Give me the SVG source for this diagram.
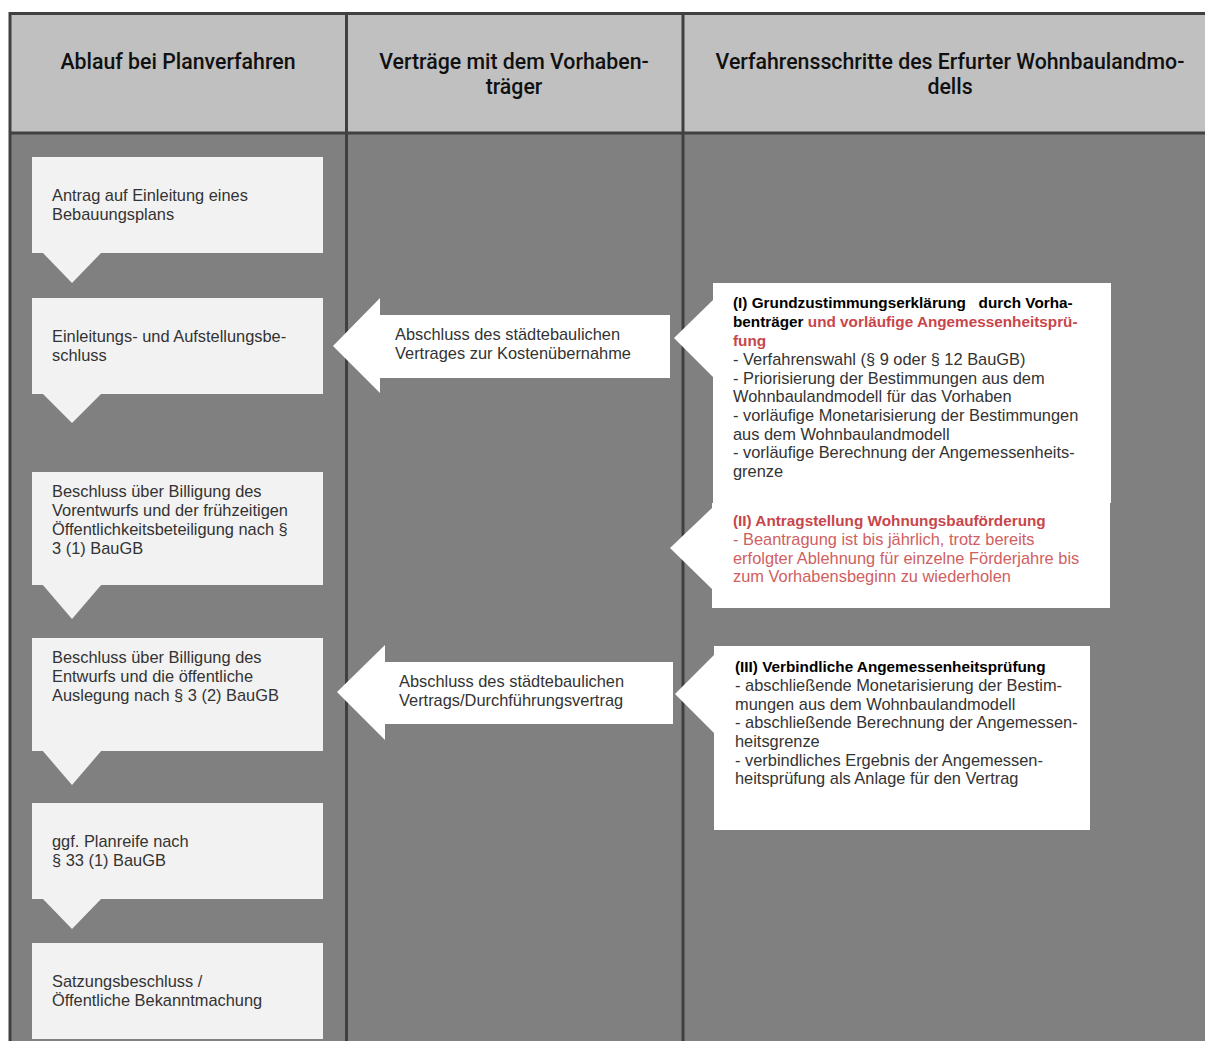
<svg xmlns="http://www.w3.org/2000/svg" width="1205" height="1041" viewBox="0 0 1205 1041">
<style>
.hdr{font-family:Roboto,"Liberation Sans",sans-serif;font-size:21.3px;font-weight:500;fill:#111;text-anchor:middle}
.t{font-family:"Liberation Sans",Arial,sans-serif;font-size:16.4px;fill:#333}
.b{font-weight:700;font-size:15.3px;fill:#000}
.red{fill:#c8464b}
.lred{fill:#d0605f}
.step{fill:#f2f2f2}
.wh{fill:#ffffff}
.grid{stroke:#404040;stroke-width:3;fill:none}
</style>
<rect x="0" y="0" width="1205" height="1041" fill="#ffffff"/>
<g id="table">
<rect x="10" y="13" width="1200" height="120" fill="#c0c0c0"/>
<rect x="10" y="133" width="1200" height="910" fill="#808080"/>
<path class="grid" d="M10,1045 V13.5 H1210 M10,133 H1210 M346.5,13 V1045 M683,13 V1045"/>
<text class="hdr" x="178" y="69">Ablauf bei Planverfahren</text>
<text class="hdr" x="514" y="69">Verträge mit dem Vorhaben-</text>
<text class="hdr" x="514" y="94">träger</text>
<text class="hdr" x="950" y="69">Verfahrensschritte des Erfurter Wohnbaulandmo-</text>
<text class="hdr" x="950" y="94">dells</text>
</g>
<g id="connectors">
<polygon class="step" points="42,252 102,252 72,283"/>
<polygon class="step" points="42,393 102,393 72,423"/>
<polygon class="step" points="42,584 102,584 72,619"/>
<polygon class="step" points="42,750 102,750 72,785"/>
<polygon class="step" points="42,898 102,898 72,929"/>
</g>
<g id="step1"><rect class="step" x="32" y="157" width="291" height="96"/>
<text class="t" x="52" y="201">Antrag auf Einleitung eines</text>
<text class="t" x="52" y="220">Bebauungsplans</text></g>
<g id="step2"><rect class="step" x="32" y="298" width="291" height="96"/>
<text class="t" x="52" y="342">Einleitungs- und Aufstellungsbe-</text>
<text class="t" x="52" y="361">schluss</text></g>
<g id="step3"><rect class="step" x="32" y="472" width="291" height="113"/>
<text class="t" x="52" y="497">Beschluss über Billigung des</text>
<text class="t" x="52" y="516">Vorentwurfs und der frühzeitigen</text>
<text class="t" x="52" y="535">Öffentlichkeitsbeteiligung nach §</text>
<text class="t" x="52" y="554">3 (1) BauGB</text></g>
<g id="step4"><rect class="step" x="32" y="638" width="291" height="113"/>
<text class="t" x="52" y="663">Beschluss über Billigung des</text>
<text class="t" x="52" y="682">Entwurfs und die öffentliche</text>
<text class="t" x="52" y="701">Auslegung nach § 3 (2) BauGB</text></g>
<g id="step5"><rect class="step" x="32" y="803" width="291" height="96"/>
<text class="t" x="52" y="847">ggf. Planreife nach</text>
<text class="t" x="52" y="866">§ 33 (1) BauGB</text></g>
<g id="step6"><rect class="step" x="32" y="943" width="291" height="96"/>
<text class="t" x="52" y="987">Satzungsbeschluss /</text>
<text class="t" x="52" y="1006">Öffentliche Bekanntmachung</text></g>
<g id="contract1"><polygon class="wh" points="670,315 380,315 380,298 333,346 380,393 380,378 670,378"/>
<text class="t" x="395" y="340">Abschluss des städtebaulichen</text>
<text class="t" x="395" y="359">Vertrages zur Kostenübernahme</text></g>
<g id="contract2"><polygon class="wh" points="673,662 385,662 385,645 337,692 385,740 385,724 673,724"/>
<text class="t" x="399" y="687">Abschluss des städtebaulichen</text>
<text class="t" x="399" y="706">Vertrags/Durchführungsvertrag</text></g>
<g id="stepI"><polygon class="wh" points="713,283 1111,283 1111,503 713,503 713,377 674,338 713,300"/>
<text class="t b" x="733" y="308" style="white-space:pre">(I) Grundzustimmungserklärung   durch Vorha-</text>
<text class="t b" x="733" y="327">benträger <tspan class="red">und vorläufige Angemessenheitsprü-</tspan></text>
<text class="t b red" x="733" y="346">fung</text>
<text class="t" x="733" y="365">- Verfahrenswahl (§ 9 oder § 12 BauGB)</text>
<text class="t" x="733" y="384">- Priorisierung der Bestimmungen aus dem</text>
<text class="t" x="733" y="402">Wohnbaulandmodell für das Vorhaben</text>
<text class="t" x="733" y="421">- vorläufige Monetarisierung der Bestimmungen</text>
<text class="t" x="733" y="440">aus dem Wohnbaulandmodell</text>
<text class="t" x="733" y="458">- vorläufige Berechnung der Angemessenheits-</text>
<text class="t" x="733" y="477">grenze</text></g>
<g id="stepII"><polygon class="wh" points="712,503 1110,503 1110,608 712,608 712,589 670,548 712,508"/>
<text class="t b red" x="733" y="526">(II) Antragstellung Wohnungsbauförderung</text>
<text class="t lred" x="733" y="545">- Beantragung ist bis jährlich, trotz bereits</text>
<text class="t lred" x="733" y="564">erfolgter Ablehnung für einzelne Förderjahre bis</text>
<text class="t lred" x="733" y="582">zum Vorhabensbeginn zu wiederholen</text></g>
<g id="stepIII"><polygon class="wh" points="714,646 1090,646 1090,830 714,830 714,733 675,694 714,655"/>
<text class="t b" x="735" y="672">(III) Verbindliche Angemessenheitsprüfung</text>
<text class="t" x="735" y="691">- abschließende Monetarisierung der Bestim-</text>
<text class="t" x="735" y="710">mungen aus dem Wohnbaulandmodell</text>
<text class="t" x="735" y="728">- abschließende Berechnung der Angemessen-</text>
<text class="t" x="735" y="747">heitsgrenze</text>
<text class="t" x="735" y="766">- verbindliches Ergebnis der Angemessen-</text>
<text class="t" x="735" y="784">heitsprüfung als Anlage für den Vertrag</text></g>
</svg>
